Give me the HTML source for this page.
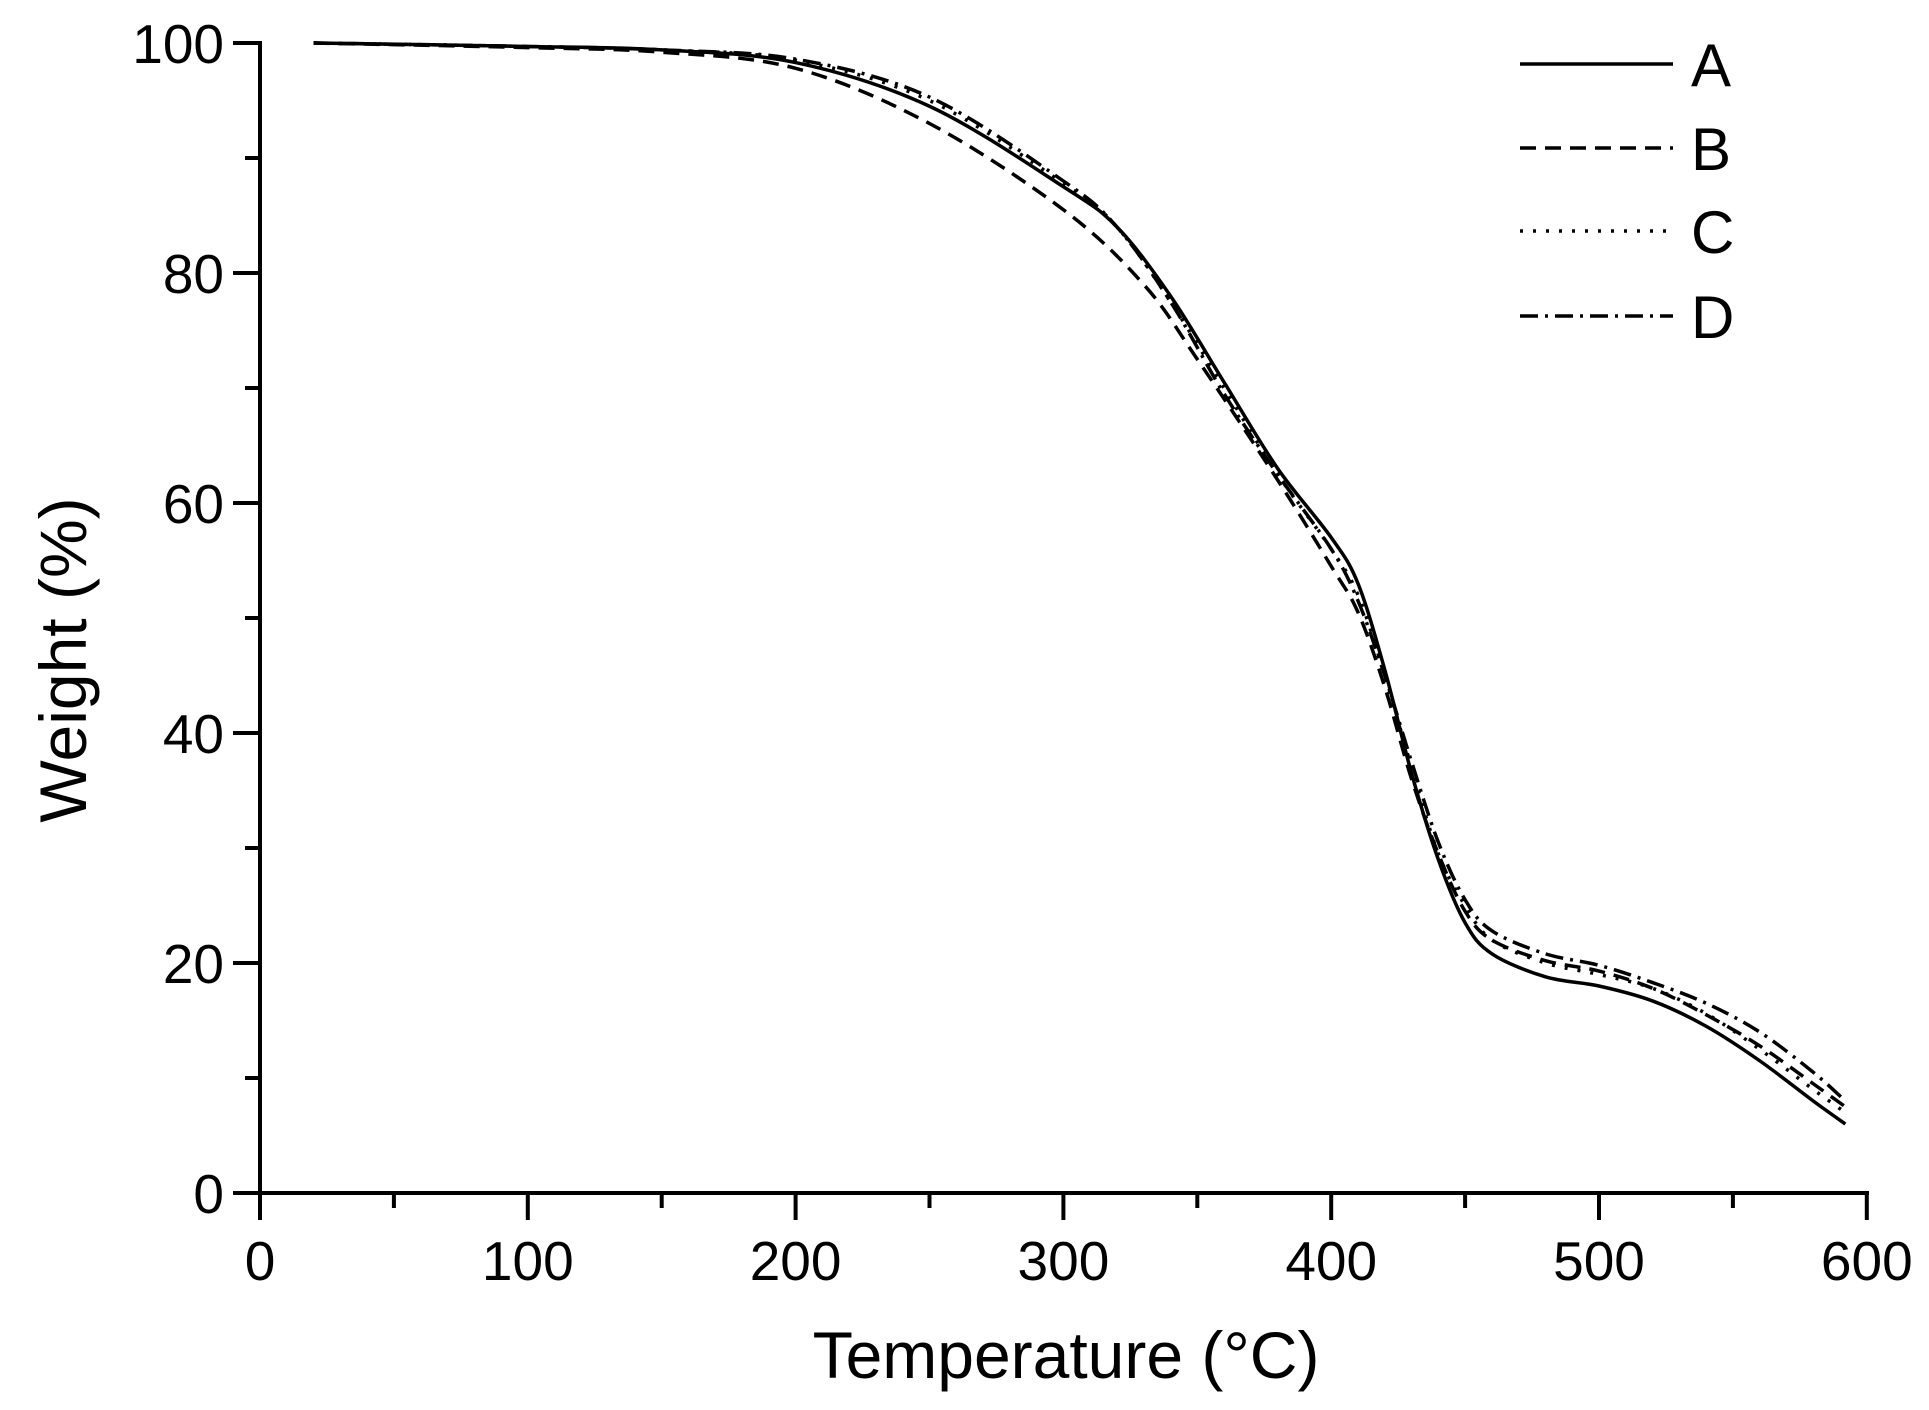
<!DOCTYPE html>
<html><head><meta charset="utf-8"><style>
html,body{margin:0;padding:0;background:#fff;}
svg{display:block;}
text{font-family:"Liberation Sans",Arial,sans-serif;fill:#000;}
</style></head><body>
<svg id="s" width="1929" height="1410" viewBox="0 0 1929 1410" xmlns="http://www.w3.org/2000/svg">
<rect width="1929" height="1410" fill="#fff"/>
<g id="axes" stroke="#000" stroke-width="4" fill="none" stroke-linecap="square"></g>
<g id="curves" stroke="#000" stroke-width="3.5" fill="none" stroke-linejoin="round"></g>
<g id="labels" font-size="55"></g>
<text x="1066" y="1378" font-size="66" text-anchor="middle">Temperature (°C)</text>
<text transform="translate(86,660) rotate(-90)" font-size="66" text-anchor="middle">Weight (%)</text>
<g stroke="#000" stroke-width="3.5">
<line x1="1520" y1="64" x2="1673" y2="64"/>
<line x1="1520" y1="148" x2="1673" y2="148" stroke-dasharray="16,9"/>
<line x1="1520" y1="231" x2="1673" y2="231" stroke-dasharray="3,10"/>
<line x1="1520" y1="316" x2="1673" y2="316" stroke-dasharray="18,7,3,7"/>
</g>
<g font-size="60">
<text x="1691" y="86">A</text>
<text x="1691" y="170">B</text>
<text x="1691" y="253">C</text>
<text x="1691" y="338">D</text>
</g>
</svg>
<script>
var NS="http://www.w3.org/2000/svg";
function X(t){return 260+t*2.678;}
function Y(w){return 43+(100-w)*11.5;}
function el(p,n,a){var e=document.createElementNS(NS,n);for(var k in a)e.setAttribute(k,a[k]);p.appendChild(e);return e;}
var ax=document.getElementById('axes'),lb=document.getElementById('labels');
el(ax,'line',{x1:260,y1:43,x2:260,y2:1193});
el(ax,'line',{x1:260,y1:1193,x2:1867,y2:1193});
for(var t=0;t<=600;t+=50){var maj=t%100==0;el(ax,'line',{x1:X(t),y1:1193,x2:X(t),y2:1193+(maj?25:13)});
 if(maj){var tx=el(lb,'text',{x:X(t),y:1280,'text-anchor':'middle'});tx.textContent=t;}}
for(var w=0;w<=100;w+=10){var maj=w%20==0;el(ax,'line',{x1:260,y1:Y(w),x2:260-(maj?25:13),y2:Y(w)});
 if(maj){var tx=el(lb,'text',{x:224,y:Y(w)+20,'text-anchor':'end'});tx.textContent=w;}}
function path(pts){var p=pts.map(function(a){return [X(a[0]),Y(a[1])];});
 var d="M"+p[0][0]+","+p[0][1];
 for(var i=0;i<p.length-1;i++){var p0=p[i-1]||p[i],p1=p[i],p2=p[i+1],p3=p[i+2]||p2;
  d+=" C"+(p1[0]+(p2[0]-p0[0])/6)+","+(p1[1]+(p2[1]-p0[1])/6)+" "+(p2[0]-(p3[0]-p1[0])/6)+","+(p2[1]-(p3[1]-p1[1])/6)+" "+p2[0]+","+p2[1];}
 return d;}
var A=[[20,100],[100,99.7],[150,99.4],[200,98.3],[250,94.5],[300,87.5],[320,84],[340,78],[360,70.5],[380,63],[400,57],[410,53],[420,45.5],[430,36.5],[440,29],[450,23.5],[460,20.8],[480,18.8],[500,18],[520,16.7],[540,14.5],[560,11.5],[580,8],[592,6]];
var B=[[20,100],[100,99.6],[150,99.2],[200,97.8],[250,93],[300,85.5],[330,79],[350,72.5],[380,62],[400,54.5],[410,50.5],[420,44],[430,36],[440,29.5],[450,24.5],[460,22],[480,20.2],[500,19.3],[520,17.8],[540,15.5],[560,12.8],[580,9.5],[592,7.5]];
var C=[[20,100],[100,99.7],[150,99.4],[200,98.5],[250,95],[300,87.8],[320,84],[340,77.5],[360,70],[380,62.5],[400,56],[410,52],[420,45],[430,37],[440,29.5],[450,25],[460,22],[480,20],[500,19],[520,17.8],[540,15.6],[560,12.5],[580,9],[592,7]];
var D=[[20,100],[100,99.7],[150,99.4],[200,98.6],[250,95.3],[300,88],[320,84],[340,77.5],[360,69.5],[380,62.5],[400,56],[410,51.5],[420,45],[430,37.5],[440,30.5],[450,25.5],[460,22.8],[480,20.8],[500,19.8],[520,18.3],[540,16.5],[560,14],[580,10.5],[592,8]];
var cv=document.getElementById('curves');
el(cv,'path',{d:path(A)});
el(cv,'path',{d:path(B),'stroke-dasharray':'16,9'});
el(cv,'path',{d:path(C),'stroke-dasharray':'3,10'});
el(cv,'path',{d:path(D),'stroke-dasharray':'18,7,3,7'});
</script>
</body></html>
